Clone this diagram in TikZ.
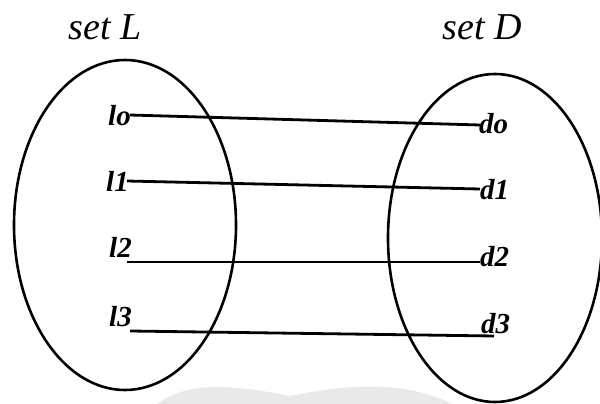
\documentclass[tikz,border=0pt]{standalone}
\usepackage{fontspec}
\setmainfont{Liberation Serif}
\usetikzlibrary{shapes.geometric}
\tikzset{
  setbox/.style={draw=black, line width=2.6pt},
  title/.style={font=\fontsize{38}{38}\selectfont\itshape, inner sep=0pt},
  elem/.style={font=\fontsize{29}{29}\selectfont\bfseries\itshape, inner sep=0pt},
  link/.style={draw=black, line width=2.8pt},
}
\begin{document}
\begin{tikzpicture}[x=1pt,y=-1pt]
\useasboundingbox (0,0) rectangle (600,404);
% watermark-like grey shape
\fill[gray!17] (157,404) .. controls (185,384) and (220,382) .. (290,396)
  .. controls (340,386) and (400,378) .. (452,404) -- cycle;
% sets
\node[setbox, ellipse, minimum width=222pt, minimum height=330pt, inner sep=0pt] (L) at (125,225) {};
\node[setbox, ellipse, minimum width=214pt, minimum height=328pt, inner sep=0pt] (D) at (495,238) {};
\node[title] (tL) at (105,27) {set L};
\node[title] (tD) at (482,27) {set D};
% elements
\node[elem, anchor=east] (l0) at (131,116) {lo};
\node[elem, anchor=east] (l1) at (129,181) {l1};
\node[elem, anchor=east] (l2) at (132,247) {l2};
\node[elem, anchor=east] (l3) at (132,317) {l3};
\node[elem, anchor=west] (d0) at (479,124) {do};
\node[elem, anchor=west] (d1) at (480,190) {d1};
\node[elem, anchor=west] (d2) at (480,257) {d2};
\node[elem, anchor=west] (d3) at (481,324) {d3};
% link ends
\coordinate (a0) at (130,115);
\coordinate (a1) at (127,181);
\coordinate (a2) at (127,262);
\coordinate (a3) at (130,331);
\coordinate (b0) at (480,125);
\coordinate (b1) at (480,189);
\coordinate (b2) at (480,262);
\coordinate (b3) at (494,336);
\draw[link] (a0) -- (b0);
\draw[link] (a1) -- (b1);
\draw[link] (a2) -- (b2);
\draw[link] (a3) -- (b3);
\end{tikzpicture}
\end{document}
